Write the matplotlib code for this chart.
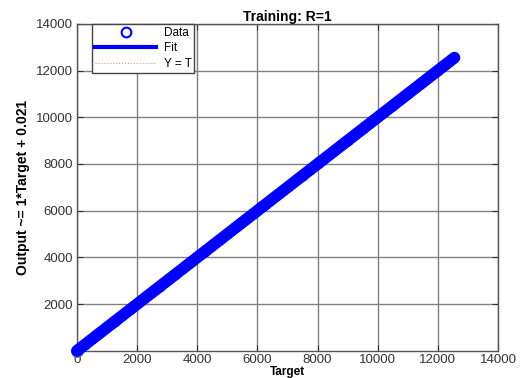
import matplotlib
matplotlib.use("Agg")
import matplotlib.pyplot as plt
from matplotlib.lines import Line2D

plt.rcParams['font.family'] = ['Liberation Sans', 'DejaVu Sans']

title = "Training: R=1"
xlabel = "Target"
ylabel = "Output ~= 1*Target + 0.021"
xticks = [0, 2000, 4000, 6000, 8000, 10000, 12000, 14000]
yticks = [2000, 4000, 6000, 8000, 10000, 12000, 14000]
targets = [0, 250, 500, 750, 1000, 1250, 1500, 1750, 2000, 2250, 2500, 2750,
           3000, 3250, 3500, 3750, 4000, 4250, 4500, 4750, 5000, 5250, 5500,
           5750, 6000, 6250, 6500, 6750, 7000, 7250, 7500, 7750, 8000, 8250,
           8500, 8750, 9000, 9250, 9500, 9750, 10000, 10250, 10500, 10750,
           11000, 11250, 11500, 11750, 12000, 12250, 12550]
outputs = [0, 250, 500, 750, 1000, 1250, 1500, 1750, 2000, 2250, 2500, 2750,
           3000, 3250, 3500, 3750, 4000, 4250, 4500, 4750, 5000, 5250, 5500,
           5750, 6000, 6250, 6500, 6750, 7000, 7250, 7500, 7750, 8000, 8250,
           8500, 8750, 9000, 9250, 9500, 9750, 10000, 10250, 10500, 10750,
           11000, 11250, 11500, 11750, 12000, 12250, 12550]
fit_x = [0, 12550]
fit_y = [0.021, 12550.021]
yt_x = [0, 12550]
yt_y = [0, 12550]

fig = plt.figure(figsize=(5.31, 3.78), dpi=100)
ax = fig.add_axes([0.145, 0.072, 0.793, 0.865])

ax.plot(yt_x, yt_y, ':', color='#c8a080', linewidth=0.8, zorder=2)
ax.plot(targets[:1], outputs[:1], 'o', mfc='none', mec='#6a6a9a', ms=8, mew=1.2,
        zorder=3, clip_on=False)
ax.plot(targets, outputs, 'o', mfc='#0000ff', mec='#0000ff', ms=6, mew=1.0,
        zorder=4, clip_on=False)
ax.plot(targets, outputs, linestyle='-', color='#0000ff', linewidth=8.5,
        solid_capstyle='round', zorder=4, clip_on=False)
ax.plot(fit_x, fit_y, '-', color='#0000ff', linewidth=3, zorder=5)

ax.set_xlim(0, 14000)
ax.set_ylim(0, 14000)
ax.set_xticks(xticks)
ax.set_yticks(yticks)
ax.grid(True, color='#808080', linewidth=1.0, linestyle='-')
ax.set_axisbelow(True)
ax.tick_params(direction='in', length=4, labelsize=9.5, colors='#333333',
               top=True, right=True, pad=3)
ax.tick_params(axis='x', pad=2)
for s in ax.spines.values():
    s.set_color('#555555')
    s.set_linewidth(1.0)

ax.set_title(title, fontsize=10, fontweight='bold', pad=2)
ax.set_xlabel(xlabel, fontsize=8.5, fontweight='bold', labelpad=0)
ax.set_ylabel(ylabel, fontsize=10, fontweight='bold', labelpad=4)

handles = [
    Line2D([], [], marker='o', linestyle='none', mfc='none', mec='#0000ff', ms=7, mew=1.5),
    Line2D([], [], color='#0000ff', linewidth=3),
    Line2D([], [], color='#c8a080', linestyle=':', linewidth=0.8),
]
leg = ax.legend(handles, ['Data', 'Fit', 'Y = T'], loc='upper left',
                bbox_to_anchor=(0.036, 1.0), fontsize=8.5, fancybox=False,
                framealpha=1, edgecolor='#444444', borderpad=0.25,
                labelspacing=0.3, handlelength=5.2, handletextpad=0.6,
                borderaxespad=0)
leg.get_frame().set_linewidth(1.0)

fig.savefig('out.png', dpi=100)
